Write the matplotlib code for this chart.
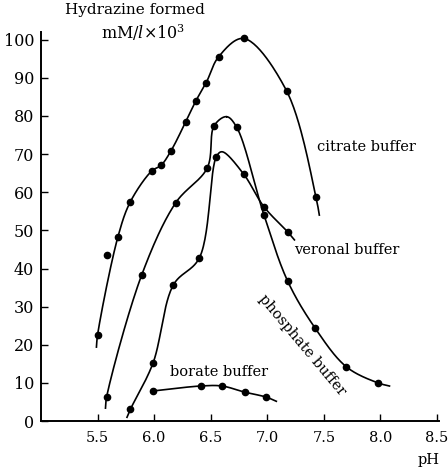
import numpy as np
import matplotlib
matplotlib.use("Agg")
import matplotlib.pyplot as plt

plt.rcParams['font.family'] = ['DejaVu Serif']
plt.rcParams['mathtext.fontset'] = 'dejavuserif'

# measured points (pH, hydrazine formed)
citrate_ph = [5.50, 5.68, 5.79, 5.98, 6.06, 6.15, 6.28, 6.37, 6.46, 6.57, 6.79, 7.17, 7.43]
citrate_val = [22.6, 48.3, 57.5, 65.6, 67.0, 70.9, 78.5, 84.0, 88.7, 95.5, 100.3, 86.6, 58.8]
citrate_extra_ph = [5.58]
citrate_extra_val = [43.6]

phosphate_ph = [5.58, 5.89, 6.19, 6.47, 6.53, 6.73, 6.97, 7.18, 7.42, 7.70, 7.98]
phosphate_val = [6.3, 38.3, 57.2, 66.4, 77.4, 77.0, 54.1, 36.7, 24.5, 14.2, 10.0]

veronal_ph = [5.79, 5.99, 6.17, 6.40, 6.55, 6.79, 6.97, 7.18]
veronal_val = [3.1, 15.2, 35.7, 42.8, 69.3, 64.8, 56.2, 49.6]

borate_ph = [5.99, 6.41, 6.60, 6.80, 6.99]
borate_val = [7.9, 9.2, 9.2, 7.6, 6.3]

# hand-drawn curve: where it starts/ends and the unmarked tops
citrate_curve_ph = [5.49] + citrate_ph + [7.46]
citrate_curve_val = [19.4] + citrate_val + [54.0]
phosphate_curve_ph = [5.57] + phosphate_ph[:5] + [6.64] + phosphate_ph[5:] + [8.08]
phosphate_curve_val = [3.4] + phosphate_val[:5] + [79.8] + phosphate_val[5:] + [9.2]
veronal_curve_ph = [5.76] + veronal_ph[:5] + [6.60] + veronal_ph[5:] + [7.24]
veronal_curve_val = [1.0] + veronal_val[:5] + [70.6] + veronal_val[5:] + [47.5]
borate_curve_ph = borate_ph + [7.08]
borate_curve_val = borate_val + [5.2]

x_ticks = [5.5, 6.0, 6.5, 7.0, 7.5, 8.0, 8.5]
y_ticks = [0, 10, 20, 30, 40, 50, 60, 70, 80, 90, 100]


def smooth(xs, ys, n=30):
    # centripetal catmull-rom, in roughly pixel-scaled units
    sx, sy = 113.5, 3.81
    p = np.column_stack([np.array(xs) * sx, np.array(ys) * sy])
    p = np.vstack([2 * p[0] - p[1], p, 2 * p[-1] - p[-2]])
    out = []
    for i in range(1, len(p) - 2):
        p0, p1, p2, p3 = p[i - 1], p[i], p[i + 1], p[i + 2]
        t0 = 0.0
        t1 = t0 + np.linalg.norm(p1 - p0) ** 0.5
        t2 = t1 + np.linalg.norm(p2 - p1) ** 0.5
        t3 = t2 + np.linalg.norm(p3 - p2) ** 0.5
        t = np.linspace(t1, t2, n)[:, None]
        a1 = (t1 - t) / (t1 - t0) * p0 + (t - t0) / (t1 - t0) * p1
        a2 = (t2 - t) / (t2 - t1) * p1 + (t - t1) / (t2 - t1) * p2
        a3 = (t3 - t) / (t3 - t2) * p2 + (t - t2) / (t3 - t2) * p3
        b1 = (t2 - t) / (t2 - t0) * a1 + (t - t0) / (t2 - t0) * a2
        b2 = (t3 - t) / (t3 - t1) * a2 + (t - t1) / (t3 - t1) * a3
        c = (t2 - t) / (t2 - t1) * b1 + (t - t1) / (t2 - t1) * b2
        out.append(c)
    out = np.vstack(out)
    return out[:, 0] / sx, out[:, 1] / sy


fig = plt.figure(figsize=(4.48, 4.70), dpi=100)
ax = fig.add_axes([0.0915, 0.104, 0.889, 0.828])

for cx, cy, mx, my in [
    (citrate_curve_ph, citrate_curve_val, citrate_ph, citrate_val),
    (phosphate_curve_ph, phosphate_curve_val, phosphate_ph, phosphate_val),
    (veronal_curve_ph, veronal_curve_val, veronal_ph, veronal_val),
    (borate_curve_ph, borate_curve_val, borate_ph, borate_val),
]:
    lx, ly = smooth(cx, cy)
    ax.plot(lx, ly, color='black', lw=1.2)
    ax.plot(mx, my, 'o', color='black', ms=4.5)
ax.plot(citrate_extra_ph, citrate_extra_val, 'o', color='black', ms=4.5)

ax.set_xlim(5.0, 8.52)
ax.set_ylim(0, 102)
ax.set_xticks(x_ticks)
ax.set_xticklabels([f"{v:.1f}" for v in x_ticks])
ax.set_yticks(y_ticks)
ax.tick_params(direction='in', length=5, width=1, labelsize=11.5, pad=5)
ax.tick_params(axis='x', pad=7, labelsize=10.5)
for s in ['top', 'right']:
    ax.spines[s].set_visible(False)
for s in ['left', 'bottom']:
    ax.spines[s].set_linewidth(1.4)

ax.text(0.236, 1.056, "Hydrazine formed", transform=ax.transAxes, fontsize=11, ha='center', va='center')
ax.text(0.256, 0.999, r"mM/$\mathit{l}$×10$^3$", transform=ax.transAxes, fontsize=11.5, ha='center', va='center')
ax.text(7.44, 71.9, "citrate buffer", fontsize=10.5, ha='left', va='center')
ax.text(7.24, 44.9, "veronal buffer", fontsize=10.5, ha='left', va='center')
ax.text(6.14, 12.9, "borate buffer", fontsize=10.5, ha='left', va='center')
ax.text(7.31, 19.9, "phosphate buffer", fontsize=10.5, ha='center', va='center', rotation=-50)
ax.text(8.43, -10.3, "pH", fontsize=10.5, ha='center', va='center')

fig.savefig("out.png", dpi=100)
